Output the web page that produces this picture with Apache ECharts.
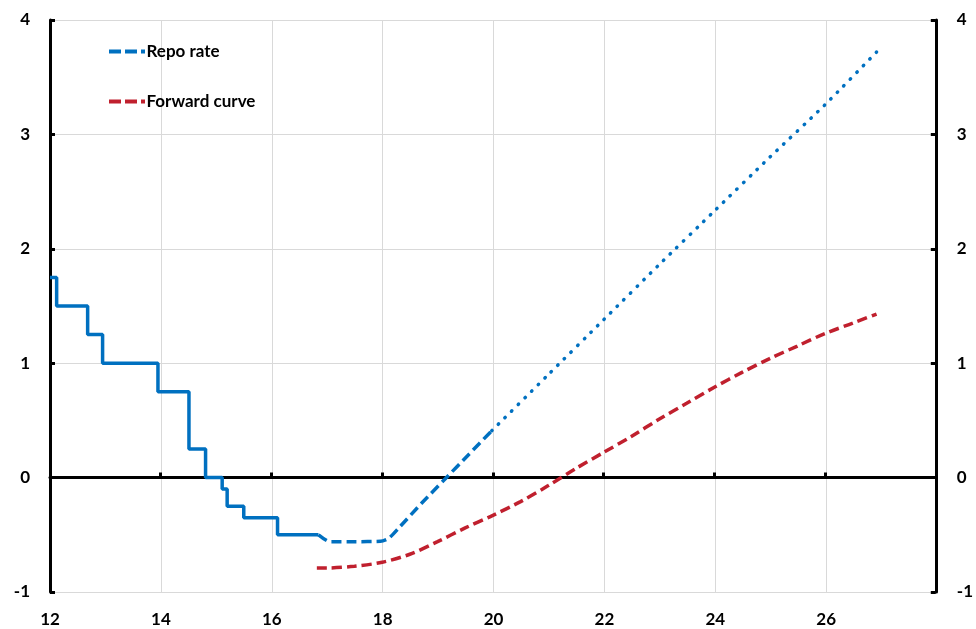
<!DOCTYPE html>
<html><head><meta charset="utf-8">
<script src="https://cdn.jsdelivr.net/npm/echarts@6/dist/echarts.min.js"></script>
<style>html,body{margin:0;padding:0;background:#fff}#c{width:976px;height:629px}</style>
</head><body><div id="c"></div>
<script>
// Repo rate, outcome (step)
const repoX = [12, 12.12, 12.68, 12.95, 13.95, 14.51, 14.81, 15.11, 15.20, 15.50, 16.11, 16.85];
const repoY = [1.75, 1.5, 1.25, 1.0, 0.75, 0.25, 0, -0.1, -0.25, -0.35, -0.5, -0.5];
// Repo rate forecast (dashed)
const fcX = [16.85, 17.05, 17.5, 17.97, 18.12, 18.3, 18.72, 19.14, 19.56, 19.98];
const fcY = [-0.5, -0.56, -0.56, -0.557, -0.53, -0.44, -0.22, -0.01, 0.2, 0.41];
// Repo rate extension (dotted)
const extX = [19.98, 21, 22, 23, 24, 25, 26, 26.93];
const extY = [0.41, 0.9, 1.38, 1.86, 2.33, 2.8, 3.26, 3.72];
// Forward curve
const fwdX = [16.82, 17, 17.5, 18, 18.5, 19, 19.5, 20, 20.5, 21, 21.5, 22, 22.5, 23, 23.5, 24, 24.5, 25, 25.5, 26, 26.5, 26.93];
const fwdY = [-0.79, -0.79, -0.775, -0.74, -0.67, -0.56, -0.44, -0.33, -0.21, -0.07, 0.08, 0.22, 0.36, 0.51, 0.65, 0.79, 0.92, 1.04, 1.15, 1.26, 1.35, 1.43];
const xTicks = [12, 14, 16, 18, 20, 22, 24, 26];

const zip = (a, b) => a.map((v, i) => [v, b[i]]);
const BLUE = '#0070C0', RED = '#C0202E';
const FONT = 'Lato';
const lbl = {color: '#000', fontFamily: FONT, fontWeight: 'bold', fontSize: 17};
const dashIcon = 'path://M0,0h12v4h-12z M16,0h12v4h-12z M32,0h4v4h-4z';
const gridRect = {left: 50, right: 39, top: 20, bottom: 37, containLabel: false};

const chart = echarts.init(document.getElementById('c'), null, {renderer: 'canvas'});
chart.setOption({
  animation: false,
  grid: [Object.assign({}, gridRect), Object.assign({}, gridRect)],
  legend: {
    orient: 'vertical', left: 104, top: 38, itemGap: 33,
    itemWidth: 37, itemHeight: 4,
    textStyle: {color: '#000', fontFamily: FONT, fontWeight: 'bold', fontSize: 17, padding: [0, 0, 0, -4]},
    data: [
      {name: 'Repo rate', icon: dashIcon},
      {name: 'Forward curve', icon: dashIcon}
    ]
  },
  xAxis: [
    // zero line with ticks
    {type: 'value', gridIndex: 0, min: 12, max: 28, interval: 2, position: 'bottom',
     axisLine: {show: true, onZero: true, lineStyle: {color: '#000', width: 3}},
     axisTick: {show: true, inside: true, length: 5, lineStyle: {color: '#000', width: 3}},
     axisLabel: {show: false}, splitLine: {show: false}},
    // labelled bottom axis + vertical gridlines
    {type: 'value', gridIndex: 1, min: 12, max: 28, interval: 2, position: 'bottom',
     axisLine: {show: false, onZero: false}, axisTick: {show: false},
     axisLabel: Object.assign({margin: 19, formatter: v => xTicks.includes(v) ? String(v) : ''}, lbl),
     splitLine: {show: true, lineStyle: {color: '#D9D9D9', width: 1}}, z: -1}
  ],
  yAxis: [
    {type: 'value', gridIndex: 0, min: -1, max: 4, interval: 1, position: 'left',
     axisLine: {show: true, onZero: false, lineStyle: {color: '#000', width: 3}},
     axisTick: {show: true, inside: true, length: 5, lineStyle: {color: '#000', width: 3}},
     axisLabel: Object.assign({margin: 20}, lbl),
     splitLine: {show: true, lineStyle: {color: '#D9D9D9', width: 1}}},
    {type: 'value', gridIndex: 0, min: -1, max: 4, interval: 1, position: 'right',
     axisLine: {show: true, onZero: false, lineStyle: {color: '#000', width: 3}},
     axisTick: {show: true, inside: true, length: 5, lineStyle: {color: '#000', width: 3}},
     axisLabel: Object.assign({margin: 21}, lbl),
     splitLine: {show: false}},
    {type: 'value', gridIndex: 1, min: -1, max: 4, interval: 1, show: false}
  ],
  series: [
    {name: 'Repo rate outcome', type: 'line', step: 'end', data: zip(repoX, repoY),
     showSymbol: false, symbol: 'none', color: BLUE, z: 3,
     lineStyle: {color: BLUE, width: 3.5}},
    {name: 'Repo rate', type: 'line', data: zip(fcX, fcY), smooth: 0.2,
     showSymbol: false, symbol: 'none', color: BLUE, z: 3,
     lineStyle: {color: BLUE, width: 3.5, type: [10, 5]}},
    {name: 'Repo rate ext', type: 'line', data: zip(extX, extY), smooth: 0.2,
     showSymbol: false, symbol: 'none', color: BLUE, z: 3,
     lineStyle: {color: BLUE, width: 3.5, type: [0.5, 8.8], cap: 'round'}},
    {name: 'Forward curve', type: 'line', data: zip(fwdX, fwdY), smooth: 0.3,
     showSymbol: false, symbol: 'none', color: RED, z: 3,
     lineStyle: {color: RED, width: 3.5, type: [10, 5]}}
  ]
});
</script></body></html>
